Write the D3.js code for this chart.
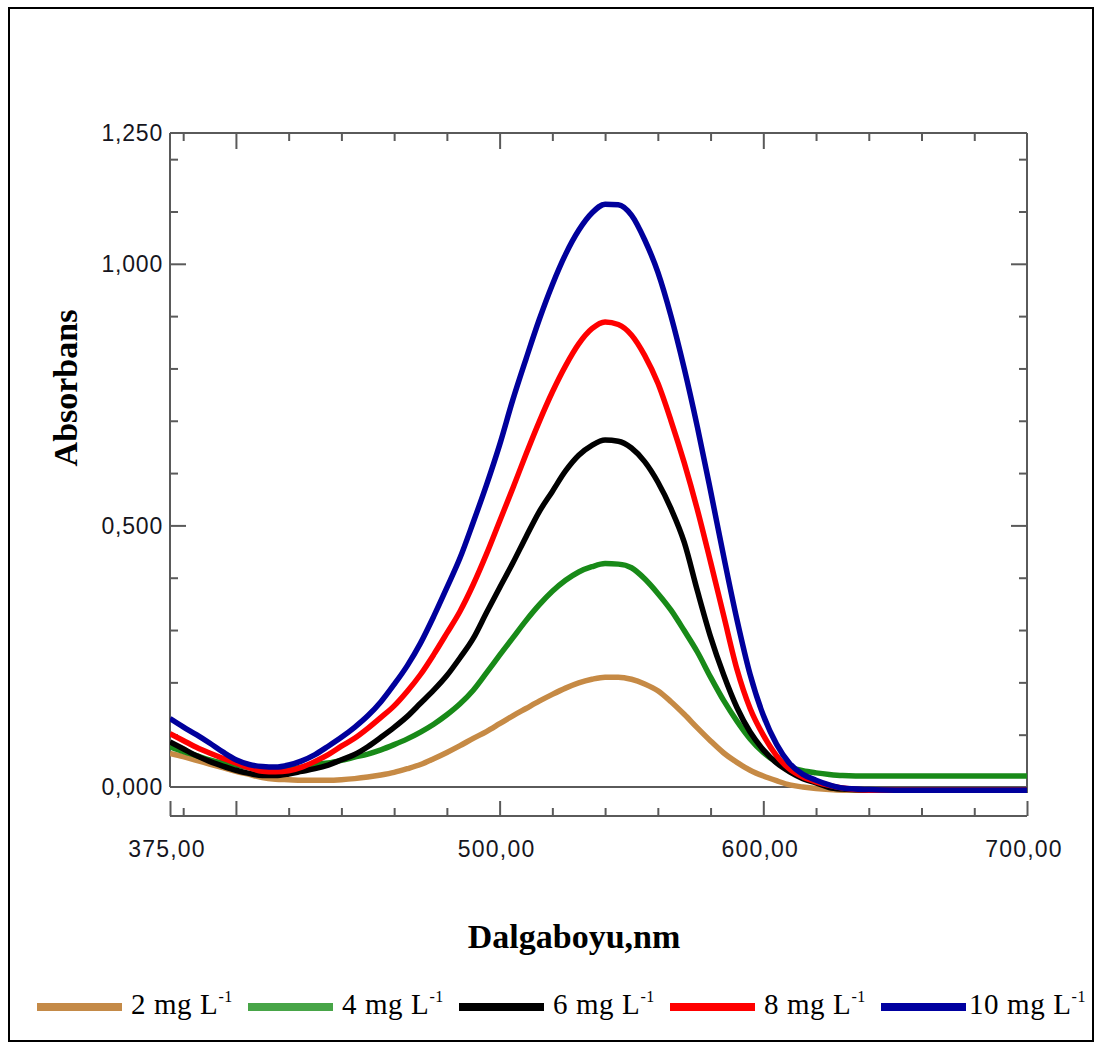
<!DOCTYPE html>
<html><head><meta charset="utf-8">
<script src="https://cdn.jsdelivr.net/npm/d3@7"></script>
<style>body{margin:0;background:#fff}</style>
</head><body><svg id="c" width="1098" height="1047"></svg>
<script>
// ---------- data ----------
const wavelengths = [375,380,385,390,395,400,405,410,415,420,425,430,435,440,445,450,455,460,465,470,475,480,485,490,495,500,505,510,515,520,525,530,535,540,545,550,555,560,565,570,575,580,585,590,595,600,605,610,615,620,625,630,640,650,660,670,680,690,700];

const abs2mg = [0.064,0.058,0.051,0.044,0.037,0.030,0.024,0.018,0.015,0.014,0.013,0.013,0.013,0.014,0.016,0.019,0.023,0.028,0.035,0.043,0.054,0.066,0.079,0.093,0.106,0.121,0.136,0.150,0.164,0.177,0.189,0.199,0.206,0.210,0.210,0.206,0.197,0.184,0.163,0.139,0.113,0.088,0.065,0.047,0.032,0.021,0.012,0.004,0.000,-0.003,-0.005,-0.006,-0.006,-0.006,-0.006,-0.006,-0.006,-0.006,-0.006];
const abs4mg = [0.077,0.068,0.060,0.052,0.046,0.042,0.037,0.033,0.032,0.034,0.038,0.043,0.046,0.051,0.057,0.063,0.071,0.081,0.092,0.105,0.120,0.138,0.159,0.185,0.218,0.252,0.285,0.318,0.348,0.374,0.395,0.411,0.421,0.427,0.426,0.419,0.398,0.370,0.338,0.299,0.258,0.210,0.165,0.126,0.092,0.066,0.048,0.038,0.031,0.027,0.024,0.022,0.021,0.021,0.021,0.021,0.021,0.021,0.021];
const abs6mg = [0.086,0.073,0.060,0.049,0.040,0.032,0.026,0.022,0.022,0.025,0.030,0.035,0.042,0.052,0.062,0.077,0.095,0.114,0.135,0.160,0.185,0.213,0.247,0.284,0.333,0.381,0.428,0.478,0.526,0.565,0.604,0.634,0.653,0.663,0.661,0.648,0.622,0.583,0.532,0.468,0.375,0.287,0.214,0.152,0.105,0.071,0.046,0.029,0.016,0.008,-0.001,-0.004,-0.006,-0.006,-0.006,-0.006,-0.006,-0.006,-0.006];
const abs8mg = [0.102,0.089,0.076,0.065,0.055,0.046,0.037,0.030,0.029,0.031,0.038,0.049,0.062,0.078,0.093,0.112,0.133,0.155,0.183,0.215,0.253,0.294,0.336,0.387,0.445,0.508,0.571,0.636,0.698,0.755,0.805,0.847,0.876,0.889,0.884,0.864,0.825,0.772,0.700,0.620,0.530,0.430,0.327,0.225,0.150,0.099,0.060,0.034,0.019,0.010,0.003,-0.002,-0.006,-0.006,-0.006,-0.006,-0.006,-0.006,-0.006];
const abs10mg = [0.131,0.115,0.100,0.084,0.067,0.052,0.043,0.039,0.038,0.042,0.050,0.062,0.078,0.095,0.114,0.136,0.163,0.196,0.232,0.275,0.326,0.381,0.438,0.506,0.577,0.654,0.740,0.818,0.893,0.960,1.018,1.064,1.097,1.114,1.113,1.093,1.046,0.984,0.900,0.800,0.688,0.566,0.440,0.320,0.215,0.137,0.082,0.045,0.024,0.013,0.004,-0.002,-0.005,-0.006,-0.006,-0.006,-0.006,-0.006,-0.006];

const seriesLabels = ["2 mg L", "4 mg L", "6 mg L", "8 mg L", "10 mg L"];
const seriesValues = [abs2mg, abs4mg, abs6mg, abs8mg, abs10mg];
const lineColors = ["#c68a45", "#188a18", "#000000", "#ff0000", "#00009c"];
const legendColors = ["#c48a48", "#48a548", "#000000", "#ff0000", "#0000a0"];

const xLabelTicks = [375, 500, 600, 700];
const xMajorTicks = [400, 500, 600, 700];
const xMinorTicks = [380,420,440,460,480,520,540,560,580,620,640,660,680];
const yLabelTicks = [0, 0.5, 1.0, 1.25];
const yMajorTicks = [0.5, 1.0];
const yMinorTicks = [0.1,0.2,0.3,0.4,0.6,0.7,0.8,0.9,1.1,1.2];

const xTitle = "Dalgaboyu,nm";
const yTitle = "Absorbans";

// ---------- drawing ----------
const svg = d3.select("#c");
const L = 170, R = 1027, T = 133, Z = 787, B = 816;
const x = d3.scaleLinear().domain([375, 700]).range([L, R]);
const y = d3.scaleLinear().domain([0, 1.25]).range([Z, T]);
const axisCol = "#5a5a5a";
const fmtY = v => d3.format(".3f")(v).replace(".", ",");
const fmtX = v => d3.format(".2f")(v).replace(".", ",");

svg.append("rect").attr("x", 0).attr("y", 0).attr("width", 1098).attr("height", 1047).attr("fill", "#fff");
svg.append("rect").attr("x", 9).attr("y", 8).attr("width", 1084).attr("height", 1033)
  .attr("fill", "none").attr("stroke", "#000").attr("stroke-width", 2);

function styleAxis(g) {
  g.selectAll("path.domain").remove();
  g.selectAll("line").attr("stroke", axisCol).attr("stroke-width", 2);
  g.selectAll("text").remove();
}

// bottom axis (ticks up)
svg.append("g").attr("transform", `translate(0,${B})`)
  .call(d3.axisTop(x).tickValues(xMinorTicks).tickSize(8).tickSizeOuter(0)).call(styleAxis);
svg.append("g").attr("transform", `translate(0,${B})`)
  .call(d3.axisTop(x).tickValues(xMajorTicks.concat([375])).tickSize(15).tickSizeOuter(0)).call(styleAxis);
svg.append("line").attr("x1", L).attr("x2", R).attr("y1", B).attr("y2", B).attr("stroke", axisCol).attr("stroke-width", 2);

// top axis (ticks down)
svg.append("g").attr("transform", `translate(0,${T})`)
  .call(d3.axisBottom(x).tickValues(xMinorTicks).tickSize(8).tickSizeOuter(0)).call(styleAxis);
svg.append("g").attr("transform", `translate(0,${T})`)
  .call(d3.axisBottom(x).tickValues([400,500,600]).tickSize(16).tickSizeOuter(0)).call(styleAxis);

// left axis (ticks right)
svg.append("g").attr("transform", `translate(${L},0)`)
  .call(d3.axisRight(y).tickValues(yMinorTicks).tickSize(8).tickSizeOuter(0)).call(styleAxis);
svg.append("g").attr("transform", `translate(${L},0)`)
  .call(d3.axisRight(y).tickValues(yMajorTicks).tickSize(16).tickSizeOuter(0)).call(styleAxis);
// right axis (ticks left)
svg.append("g").attr("transform", `translate(${R},0)`)
  .call(d3.axisLeft(y).tickValues(yMinorTicks).tickSize(8).tickSizeOuter(0)).call(styleAxis);
svg.append("g").attr("transform", `translate(${R},0)`)
  .call(d3.axisLeft(y).tickValues(yMajorTicks).tickSize(16).tickSizeOuter(0)).call(styleAxis);

// frame lines
const frame = [[L, T, R, T], [L, T, L, Z], [R, T, R, 793], [L, Z, R, Z]];
frame.forEach(f => svg.append("line").attr("x1", f[0]).attr("y1", f[1]).attr("x2", f[2]).attr("y2", f[3])
  .attr("stroke", axisCol).attr("stroke-width", 2));

// tick labels
svg.append("g").selectAll("text").data(yLabelTicks).join("text")
  .attr("x", 163).attr("y", d => y(d)).attr("dy", "0.36em").attr("text-anchor", "end")
  .attr("font-family", "Liberation Sans, Arial, sans-serif").attr("font-size", 23)
  .attr("letter-spacing", 0.8).attr("fill", "#151520").text(fmtY);
svg.append("g").selectAll("text").data(xLabelTicks).join("text")
  .attr("x", d => x(d) - 3).attr("y", 857).attr("text-anchor", "middle")
  .attr("font-family", "Liberation Sans, Arial, sans-serif").attr("font-size", 23)
  .attr("letter-spacing", 1.2).attr("fill", "#151520").text(fmtX);

// titles
svg.append("text").attr("transform", "translate(77,388) rotate(-90)").attr("text-anchor", "middle")
  .attr("font-family", "Liberation Serif, Times New Roman, serif").attr("font-weight", "bold")
  .attr("font-size", 34).text(yTitle);
svg.append("text").attr("x", 574).attr("y", 948).attr("text-anchor", "middle")
  .attr("font-family", "Liberation Serif, Times New Roman, serif").attr("font-weight", "bold")
  .attr("font-size", 34).text(xTitle);

// curves
svg.append("clipPath").attr("id", "pc").append("rect").attr("x", L).attr("y", 100).attr("width", R - L).attr("height", 720);
const line = d3.line().x((d, i) => x(wavelengths[i])).y(d => y(d)).curve(d3.curveMonotoneX);
svg.append("g").attr("clip-path", "url(#pc)").selectAll("path").data(seriesValues).join("path")
  .attr("d", d => line(d)).attr("fill", "none")
  .attr("stroke", (d, i) => lineColors[i]).attr("stroke-width", 5.5).attr("stroke-linejoin", "round");

// legend
const lg = svg.append("g").selectAll("g").data(seriesLabels).join("g")
  .attr("transform", (d, i) => `translate(${37 + i * 211},0)`);
lg.append("line").attr("x1", 0).attr("x2", 85).attr("y1", 1007).attr("y2", 1007)
  .attr("stroke", (d, i) => legendColors[i]).attr("stroke-width", 8);
const lt = lg.append("text").attr("x", (d, i) => i === 4 ? 88 : 94).attr("y", 1014)
  .attr("font-family", "Liberation Serif, Times New Roman, serif").attr("font-size", 29)
  .attr("letter-spacing", 0.6).attr("fill", "#000");
lt.append("tspan").text(d => d);
lt.append("tspan").attr("dy", -12).attr("font-size", 16).text("-1");
</script></body></html>
